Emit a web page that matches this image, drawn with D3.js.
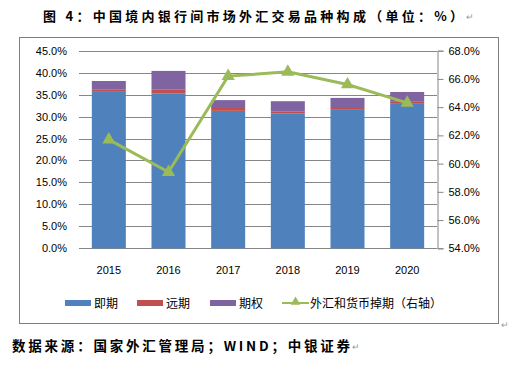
<!DOCTYPE html>
<html>
<head>
<meta charset="utf-8">
<script src="https://cdn.jsdelivr.net/npm/d3@7"></script>
<style>
  body { margin: 0; background: #fff; }
  text { font-family: "Liberation Sans", Arial, sans-serif; }
</style>
</head>
<body>
<div id="chart"></div>
<script>
const years = ["2015", "2016", "2017", "2018", "2019", "2020"];
const spot = [35.8, 35.3, 31.3, 30.65, 31.7, 32.9];
const forward = [0.3, 0.8, 0.65, 0.45, 0.25, 0.45];
const options = [2.0, 4.3, 1.8, 2.4, 2.3, 2.25];
const swaps = [61.7, 59.4, 66.2, 66.5, 65.6, 64.3];
const leftTicks = [0, 5, 10, 15, 20, 25, 30, 35, 40, 45];
const rightTicks = [54, 56, 58, 60, 62, 64, 66, 68];

const seriesNames = ["即期", "远期", "期权"];
const colors = ["#4F81BD", "#C0504D", "#8064A2"];
const lineColor = "#9BBB59";

const width = 529, height = 368;
const plot = { left: 79, right: 437, top: 50.7, bottom: 248.3 };

const svg = d3.select("#chart").append("svg")
    .attr("width", width)
    .attr("height", height);

// title
svg.append("text")
    .attr("x", 43).attr("y", 21)
    .attr("textLength", 420)
    .style("font-family", "'Noto Sans CJK SC', serif")
    .style("font-weight", "bold")
    .style("font-size", "13px")
    .attr("fill", "#000")
    .text("图 4：中国境内银行间市场外汇交易品种构成（单位：%）");
svg.append("text").attr("x", 466).attr("y", 20)
    .style("font-size", "9px").attr("fill", "#999").text("↵");

// frame
svg.append("rect")
    .attr("x", 19.5).attr("y", 37.5)
    .attr("width", 479).attr("height", 286)
    .attr("fill", "none").attr("stroke", "#7f7f7f");
svg.append("text").attr("x", 501).attr("y", 328)
    .style("font-size", "9px").attr("fill", "#999").text("↵");

const x = d3.scaleBand().domain(years).range([plot.left, plot.right]).paddingInner(0.43).paddingOuter(0.215);
const yL = d3.scaleLinear().domain([0, 45]).range([plot.bottom, plot.top]);
const yR = d3.scaleLinear().domain([54, 68]).range([plot.bottom, plot.top]);

// gridlines
svg.append("g").selectAll("line").data(leftTicks).join("line")
    .attr("x1", plot.left).attr("x2", plot.right)
    .attr("y1", d => Math.round(yL(d)) + 0.5).attr("y2", d => Math.round(yL(d)) + 0.5)
    .attr("stroke", "#868686").attr("stroke-width", 1);

// left axis labels
svg.append("g").selectAll("text").data(leftTicks).join("text")
    .attr("x", 67).attr("y", d => yL(d) + 4)
    .attr("text-anchor", "end")
    .style("font-size", "11px")
    .text(d => d.toFixed(1) + "%");

// right axis
const rightAxis = svg.append("g")
    .attr("transform", "translate(" + (plot.right + 0.5) + ",0)")
    .call(d3.axisRight(yR).tickValues(rightTicks).tickSize(6).tickPadding(5)
        .tickFormat(d => d.toFixed(1) + "%"));
rightAxis.select(".domain").attr("stroke", "#868686");
rightAxis.selectAll(".tick line").attr("stroke", "#868686");
rightAxis.selectAll("text").style("font-size", "11px").attr("fill", "#000")
    .style("font-family", "'Liberation Sans', Arial, sans-serif");

// stacked bars
const rows = years.map((yr, i) => ({ year: yr, s0: spot[i], s1: forward[i], s2: options[i] }));
const stack = d3.stack().keys(["s0", "s1", "s2"])(rows);

svg.append("g").selectAll("g").data(stack).join("g")
    .attr("fill", (d, i) => colors[i])
    .selectAll("rect").data(d => d).join("rect")
    .attr("x", d => x(d.data.year))
    .attr("width", x.bandwidth())
    .attr("y", d => yL(d[1]))
    .attr("height", d => yL(d[0]) - yL(d[1]));

// x labels
svg.append("g").selectAll("text").data(years).join("text")
    .attr("x", d => x(d) + x.bandwidth() / 2)
    .attr("y", 274)
    .attr("text-anchor", "middle")
    .style("font-size", "11px")
    .text(d => d);

// swap line
const line = d3.line()
    .x((d, i) => x(years[i]) + x.bandwidth() / 2)
    .y(d => yR(d));
svg.append("path").datum(swaps)
    .attr("d", line)
    .attr("fill", "none")
    .attr("stroke", lineColor)
    .attr("stroke-width", 3);

const tri = d3.symbol().type(d3.symbolTriangle).size(75);
svg.append("g").selectAll("path").data(swaps).join("path")
    .attr("d", tri)
    .attr("transform", (d, i) => "translate(" + (x(years[i]) + x.bandwidth() / 2) + "," + yR(d) + ")")
    .attr("fill", lineColor);

// legend
const legY = 303;
const legX = [65, 137, 210];
seriesNames.forEach((name, i) => {
    svg.append("rect")
        .attr("x", legX[i]).attr("y", legY - 3)
        .attr("width", 26).attr("height", 6)
        .attr("fill", colors[i]);
    svg.append("text")
        .attr("x", legX[i] + 29).attr("y", legY + 5)
        .style("font-family", "'Noto Sans CJK SC', sans-serif")
        .style("font-size", "12px")
        .text(name);
});
svg.append("line")
    .attr("x1", 282).attr("x2", 309)
    .attr("y1", legY).attr("y2", legY)
    .attr("stroke", lineColor).attr("stroke-width", 2);
svg.append("path")
    .attr("d", d3.symbol().type(d3.symbolTriangle).size(40))
    .attr("transform", "translate(295.5," + (legY - 1) + ")")
    .attr("fill", lineColor);
svg.append("text")
    .attr("x", 310).attr("y", legY + 5)
    .style("font-family", "'Noto Sans CJK SC', sans-serif")
    .style("font-size", "12px")
    .text("外汇和货币掉期（右轴）");

// source
svg.append("text")
    .attr("x", 12).attr("y", 351)
    .attr("textLength", 338)
    .style("font-family", "'Noto Sans CJK SC', serif")
    .style("font-weight", "bold")
    .style("font-size", "13.5px")
    .text("数据来源：国家外汇管理局；WIND；中银证券");
svg.append("text").attr("x", 352).attr("y", 350)
    .style("font-size", "9px").attr("fill", "#999").text("↵");
</script>
</body>
</html>
